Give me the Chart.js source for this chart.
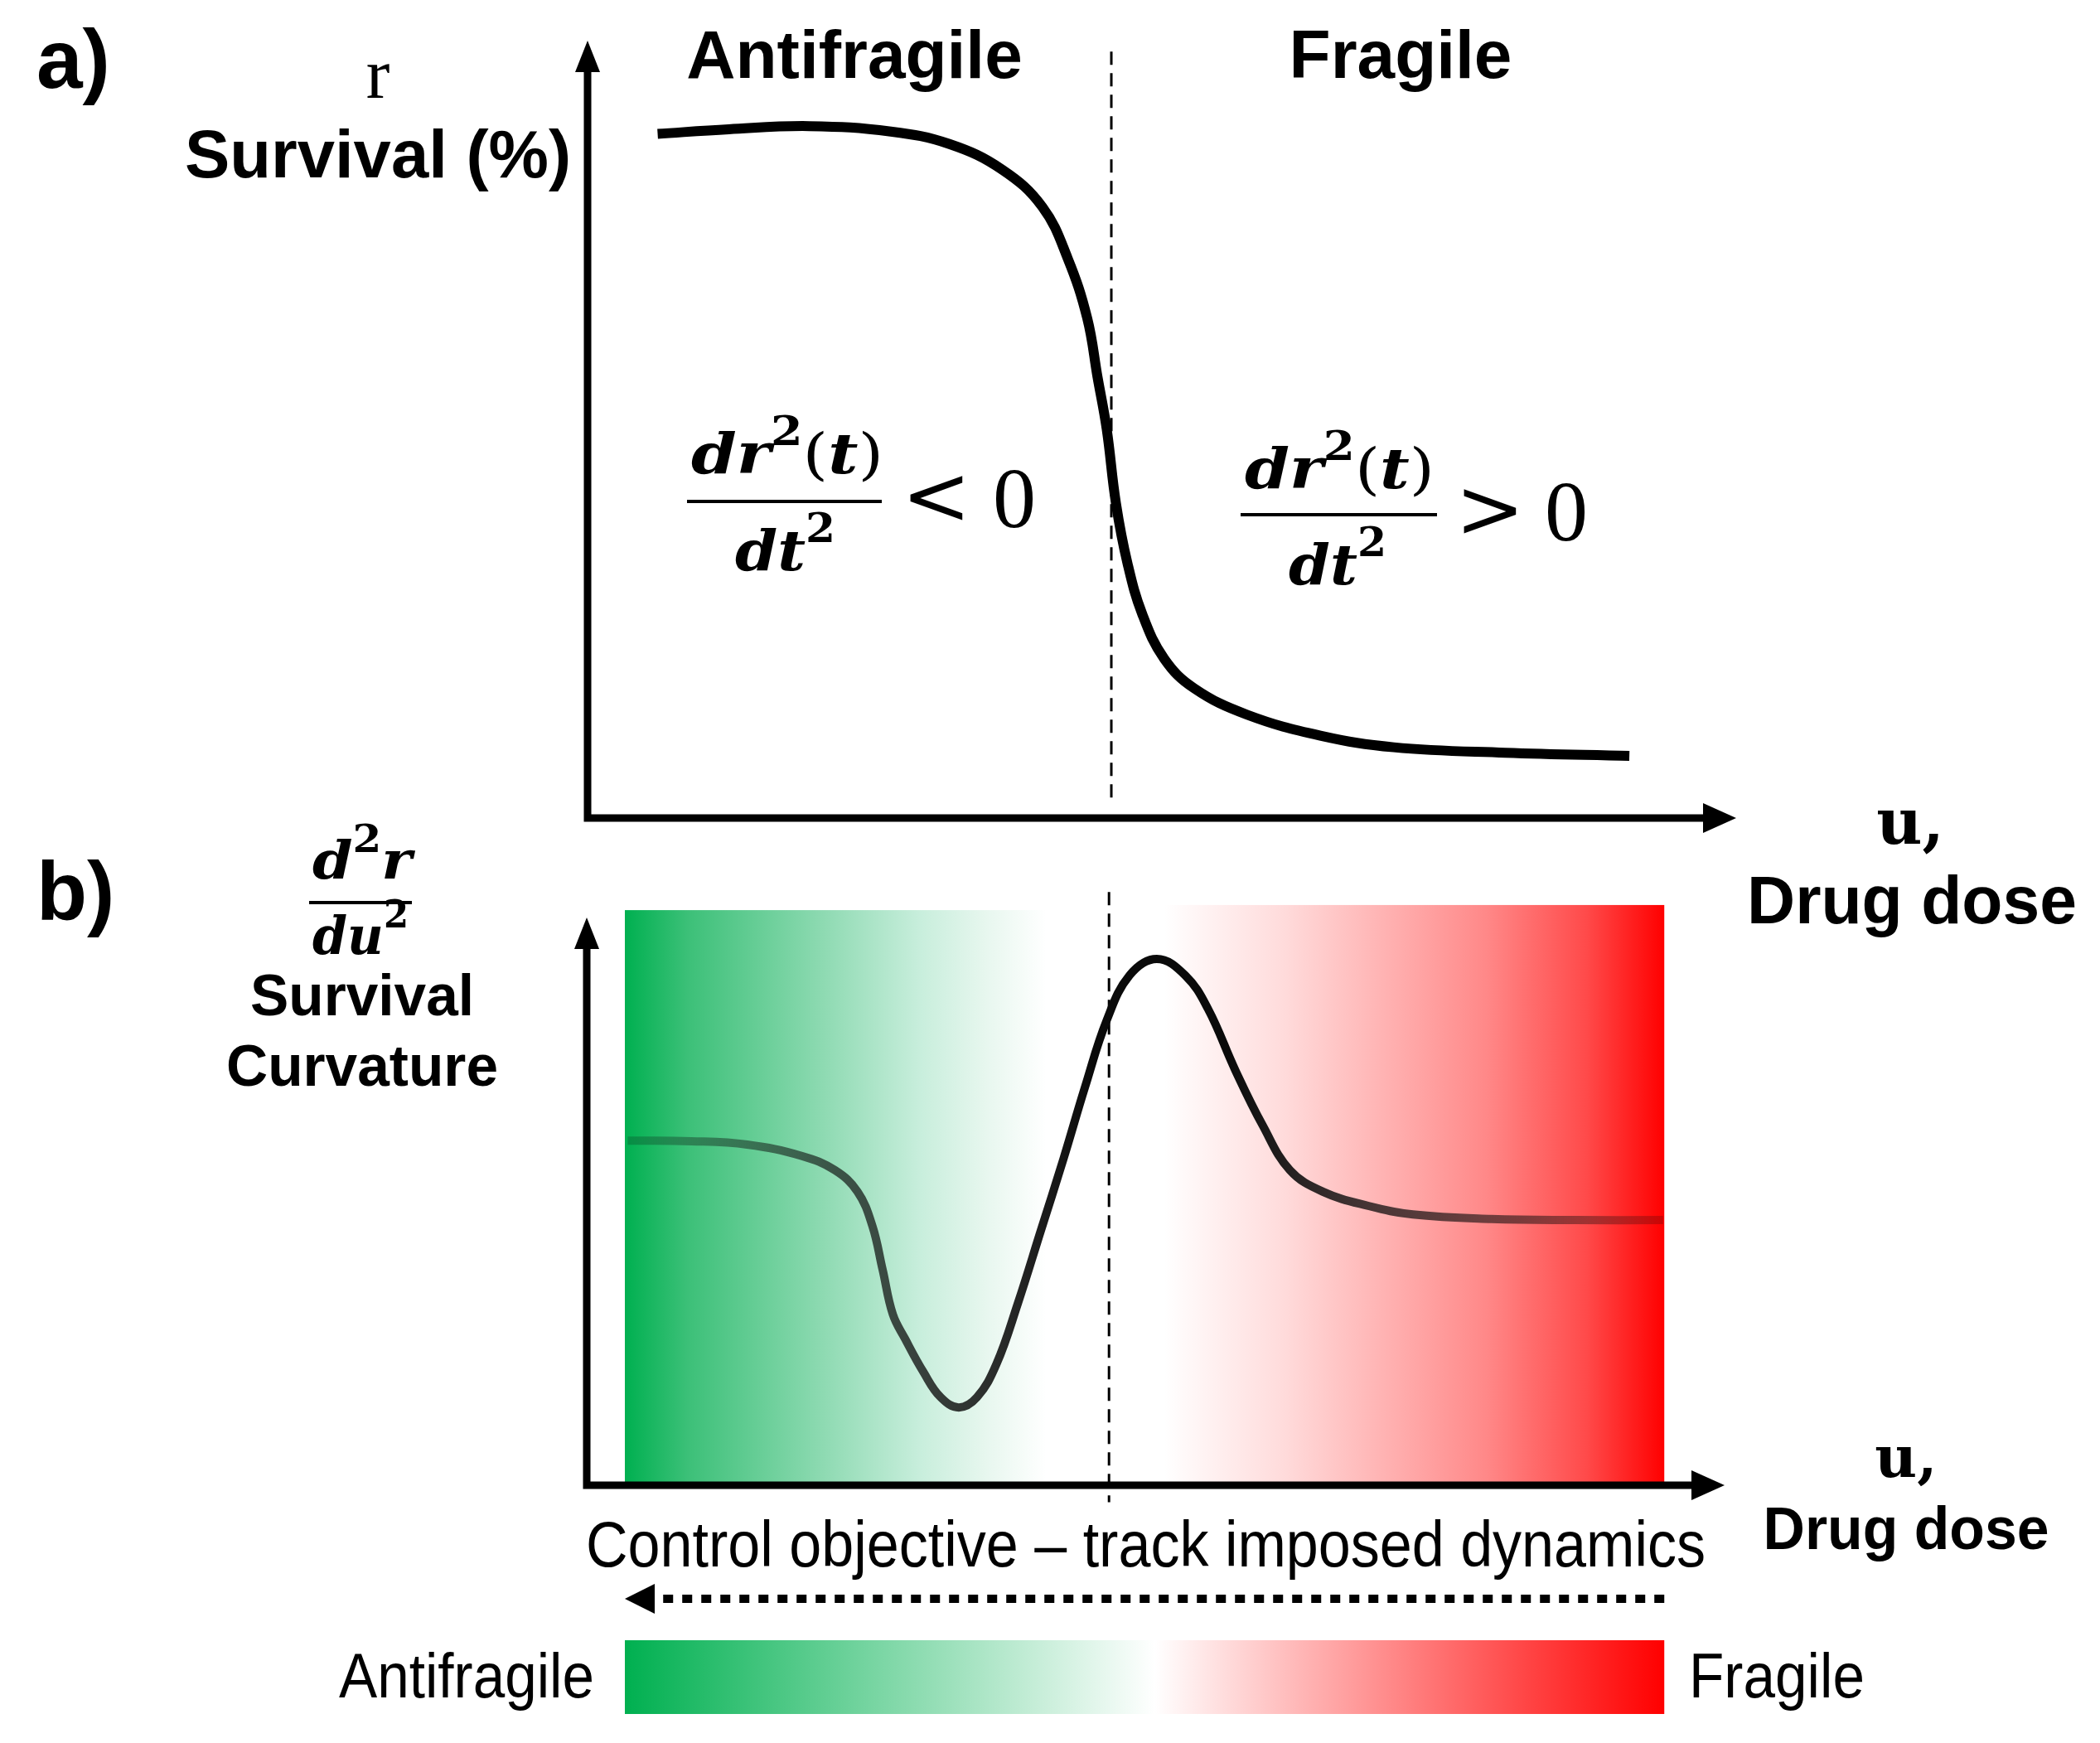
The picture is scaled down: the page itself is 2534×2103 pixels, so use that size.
<!DOCTYPE html>
<html>
<head>
<meta charset="utf-8">
<script src="https://cdn.jsdelivr.net/npm/chart.js@4.4.1/dist/chart.umd.min.js"></script>
<style>
html,body{margin:0;padding:0;background:#fff;}
body{width:2534px;height:2103px;position:relative;overflow:hidden;}
#chartA{position:absolute;left:0;top:0;}
#chartB{position:absolute;left:0;top:990px;}
</style>
</head>
<body>
<canvas id="chartA" width="2534" height="1140"></canvas>
<canvas id="chartB" width="2534" height="1113"></canvas>
<script>
// a) survival vs drug dose (arbitrary units, axes 0-10 / 0-100)
var doseA = [0.61,1.23,1.93,2.64,3.15,3.61,3.96,4.18,4.35,4.44,4.52,4.60,4.70,4.83,5.02,5.28,5.74,6.38,7.02,7.99,9.07];
var survivalA = [88.0,88.6,89.0,88.3,86.7,83.4,78.6,72.0,64.3,56.7,50.0,40.5,32.8,26.2,20.5,16.7,13.3,10.6,9.1,8.4,8.0];
var boundaryA = 4.56;

// b) survival curvature vs drug dose
var doseB = [0.36,0.92,1.41,1.89,2.18,2.38,2.51,2.60,2.69,2.80,2.96,3.11,3.27,3.43,3.60,3.79,3.99,4.19,4.38,4.57,4.77,5.01,5.26,5.46,5.70,5.94,6.18,6.47,6.87,7.26,7.95,8.68,9.46];
var curvatureB = [60.7,60.6,60.0,58.0,55.5,51.7,45.7,38.0,30.1,25.7,19.9,15.5,13.7,15.5,21.3,32.1,44.8,57.5,70.2,81.9,89.8,92.7,89.8,83.9,73.1,63.4,55.5,51.7,49.2,47.7,46.9,46.7,46.7];
var boundaryB = 4.59;
var regionsB = [0.335, 4.59, 9.47]; // antifragile zone | fragile zone

var SANS = "'Liberation Sans', Arial, sans-serif";
var SERIF = "'DejaVu Serif', serif";

function pts(xs, ys) {
  return xs.map(function (x, i) { return {x: x, y: ys[i]}; });
}

function txt(ctx, s, x, y, font, align, maxW) {
  ctx.font = font;
  ctx.textAlign = align || 'center';
  ctx.textBaseline = 'alphabetic';
  ctx.fillStyle = '#000';
  if (maxW) ctx.fillText(s, x, y, maxW); else ctx.fillText(s, x, y);
}

// draw runs of text squeezed/stretched between x0 and x1
function runs(ctx, parts, x0, x1, base) {
  var w = 0;
  parts.forEach(function (p) { ctx.font = p[1]; w += ctx.measureText(p[0]).width; });
  ctx.save();
  ctx.translate(x0, base);
  ctx.scale((x1 - x0) / w, 1);
  ctx.textAlign = 'left';
  ctx.textBaseline = 'alphabetic';
  ctx.fillStyle = '#000';
  var cx = 0;
  parts.forEach(function (p) {
    ctx.font = p[1];
    ctx.fillText(p[0], cx, p[2] || 0);
    cx += ctx.measureText(p[0]).width;
  });
  ctx.restore();
}

function hline(ctx, x0, x1, y, w) {
  ctx.beginPath(); ctx.moveTo(x0, y); ctx.lineTo(x1, y);
  ctx.lineWidth = w; ctx.strokeStyle = '#000'; ctx.stroke();
}

function axes(ctx, a) {
  ctx.save();
  ctx.strokeStyle = '#000'; ctx.fillStyle = '#000'; ctx.lineWidth = 9; ctx.setLineDash([]);
  ctx.beginPath();
  ctx.moveTo(a.left, a.top + 30); ctx.lineTo(a.left, a.bottom); ctx.lineTo(a.right - 34, a.bottom);
  ctx.stroke();
  ctx.beginPath();
  ctx.moveTo(a.left, a.top); ctx.lineTo(a.left - 15, a.top + 38); ctx.lineTo(a.left + 15, a.top + 38); ctx.closePath(); ctx.fill();
  ctx.beginPath();
  ctx.moveTo(a.right, a.bottom); ctx.lineTo(a.right - 40, a.bottom - 18); ctx.lineTo(a.right - 40, a.bottom + 18); ctx.closePath(); ctx.fill();
  ctx.restore();
}

function dashV(ctx, x, y0, y1) {
  ctx.save();
  ctx.beginPath(); ctx.moveTo(x, y0); ctx.lineTo(x, y1);
  ctx.setLineDash([16, 10]); ctx.lineWidth = 3; ctx.strokeStyle = '#000'; ctx.stroke();
  ctx.restore();
}

var plugA = {
  id: 'decorA',
  afterDraw: function (chart) {
    var ctx = chart.ctx, a = chart.chartArea, xs = chart.scales.x, ys = chart.scales.y;
    ctx.save();
    axes(ctx, a);
    dashV(ctx, xs.getPixelForValue(boundaryA), ys.getPixelForValue(98.6), ys.getPixelForValue(2.4));

    var MI = "bold italic 68px " + SERIF, UP = "68px " + SERIF, SUP = "bold 48px " + SERIF;
    var REL = "100px " + SERIF, ZERO = "104px 'Liberation Serif', serif";
    txt(ctx, 'a)', 44, 106, "bold 100px " + SANS, 'left', 93);
    txt(ctx, 'r', 456, 118, "86px 'Liberation Serif', serif");
    txt(ctx, 'Survival (%)', 456, 214, "bold 82px " + SANS, 'center', 466);
    txt(ctx, 'Antifragile', 1031, 94, "bold 82px " + SANS, 'center', 412);
    txt(ctx, 'Fragile', 1690, 94, "bold 82px " + SANS, 'center', 272);
    txt(ctx, 'u,', 2305, 1018, "bold 76px " + SERIF);
    txt(ctx, 'Drug dose', 2307, 1114, "bold 82px " + SANS, 'center', 398);

    // d r^2(t) / dt^2 < 0
    runs(ctx, [['d', MI], ['r', MI], ['2', SUP, -34], ['(', UP], ['t', MI], [')', UP]], 834, 1066, 571);
    hline(ctx, 829, 1064, 605, 4);
    runs(ctx, [['d', MI], ['t', MI], ['2', SUP, -34]], 887, 1008, 688);
    txt(ctx, '<', 1130, 632, REL);
    txt(ctx, '0', 1224, 636, ZERO);
    // d r^2(t) / dt^2 > 0
    runs(ctx, [['d', MI], ['r', MI], ['2', SUP, -34], ['(', UP], ['t', MI], [')', UP]], 1502, 1731, 589);
    hline(ctx, 1497, 1734, 621, 4);
    runs(ctx, [['d', MI], ['t', MI], ['2', SUP, -34]], 1555, 1673, 705);
    txt(ctx, '>', 1798, 648, REL);
    txt(ctx, '0', 1890, 652, ZERO);
    ctx.restore();
  }
};

var OFF = 990; // top of canvas B on the page
var plugB = {
  id: 'decorB',
  beforeDatasetsDraw: function (chart) {
    var ctx = chart.ctx, a = chart.chartArea, xs = chart.scales.x, ys = chart.scales.y;
    var x0 = xs.getPixelForValue(regionsB[0]), x1 = xs.getPixelForValue(regionsB[1]), x2 = xs.getPixelForValue(regionsB[2]);
    var yb = a.bottom;
    ctx.save();
    var g = ctx.createLinearGradient(x0, 0, x1, 0);
    g.addColorStop(0, '#00B050');
    g.addColorStop(0.13, '#3CC078');
    g.addColorStop(0.41, '#8EDAB2');
    g.addColorStop(0.61, '#C8EEDC');
    g.addColorStop(0.75, '#E8F7EF');
    g.addColorStop(0.87, '#FFFFFF');
    g.addColorStop(1, '#FFFFFF');
    ctx.fillStyle = g;
    var yg = ys.getPixelForValue(101.3);
    ctx.fillRect(x0, yg, x1 - x0, yb - yg);
    var r = ctx.createLinearGradient(x1, 0, x2, 0);
    r.addColorStop(0, '#FFFFFF');
    r.addColorStop(0.1, '#FFFFFF');
    r.addColorStop(0.32, '#FFDADA');
    r.addColorStop(0.56, '#FFA4A4');
    r.addColorStop(0.68, '#FF8888');
    r.addColorStop(0.86, '#FF4A4A');
    r.addColorStop(1, '#FF0000');
    ctx.fillStyle = r;
    var yr = ys.getPixelForValue(102.2);
    ctx.fillRect(x1, yr, x2 - x1, yb - yr);
    axes(ctx, a);
    dashV(ctx, xs.getPixelForValue(boundaryB), ys.getPixelForValue(104.5), ys.getPixelForValue(-3));
    ctx.restore();
  },
  afterDraw: function (chart) {
    var ctx = chart.ctx, xs = chart.scales.x;
    var x0 = xs.getPixelForValue(regionsB[0]), x2 = xs.getPixelForValue(regionsB[2]);
    ctx.save();
    ctx.translate(0, -OFF);
    var MI = "bold italic 64px " + SERIF, SUP = "bold 46px " + SERIF;
    txt(ctx, 'b)', 44, 1110, "bold 100px " + SANS, 'left', 96);
    runs(ctx, [['d', MI], ['2', SUP, -32], ['r', MI]], 377, 497, 1060);
    hline(ctx, 373, 497, 1089, 4);
    runs(ctx, [['d', MI], ['u', MI], ['2', SUP, -32]], 377, 493, 1151);
    txt(ctx, 'Survival', 437, 1225, "bold 70px " + SANS, 'center', 270);
    txt(ctx, 'Curvature', 437, 1310, "bold 70px " + SANS, 'center', 328);
    txt(ctx, 'u,', 2300, 1782, "bold 70px " + SERIF);
    txt(ctx, 'Drug dose', 2300, 1869, "bold 72px " + SANS, 'center', 345);
    txt(ctx, 'Control objective \u2013 track imposed dynamics', 707, 1890, "78px " + SANS, 'left', 1351);

    // dotted arrow pointing towards antifragile
    ctx.beginPath(); ctx.moveTo(x2, 1929); ctx.lineTo(x0 + 34, 1929);
    ctx.setLineDash([12, 11]); ctx.lineWidth = 10; ctx.strokeStyle = '#000'; ctx.stroke();
    ctx.setLineDash([]);
    ctx.beginPath(); ctx.moveTo(x0, 1929); ctx.lineTo(x0 + 36, 1911); ctx.lineTo(x0 + 36, 1947); ctx.closePath();
    ctx.fillStyle = '#000'; ctx.fill();

    // colour bar
    var g = ctx.createLinearGradient(x0, 0, x2, 0);
    g.addColorStop(0, '#00B050');
    g.addColorStop(0.51, '#FFFFFF');
    g.addColorStop(1, '#FF0000');
    ctx.fillStyle = g;
    ctx.fillRect(x0, 1979, x2 - x0, 89);
    txt(ctx, 'Antifragile', 717, 2048, "76px " + SANS, 'right', 308);
    txt(ctx, 'Fragile', 2038, 2048, "76px " + SANS, 'left', 212);
    ctx.restore();
  }
};

function baseOpts(pad) {
  return {
    responsive: false,
    animation: false,
    layout: {padding: pad},
    plugins: {legend: {display: false}, tooltip: {enabled: false}},
    scales: {
      x: {type: 'linear', min: 0, max: 10, display: false},
      y: {type: 'linear', min: 0, max: 100, display: false}
    }
  };
}

new Chart("chartA", {
  type: "line",
  data: {
    datasets: [{
      data: pts(doseA, survivalA),
      borderColor: "#000",
      borderWidth: 12,
      pointRadius: 0,
      tension: 0.4,
      borderJoinStyle: 'round',
      clip: false
    }]
  },
  options: baseOpts({left: 709, right: 439, top: 49, bottom: 153}),
  plugins: [plugA]
});

new Chart("chartB", {
  type: "line",
  data: {
    datasets: [{
      data: pts(doseB, curvatureB),
      borderColor: function (c) {
        var ch = c.chart;
        if (!ch.chartArea) return 'rgba(0,0,0,0.8)';
        var xs = ch.scales.x;
        var g = ch.ctx.createLinearGradient(xs.getPixelForValue(doseB[0]), 0, xs.getPixelForValue(doseB[doseB.length - 1]), 0);
        g.addColorStop(0, 'rgba(10,10,10,0.2)');
        g.addColorStop(0.2, 'rgba(10,10,10,0.65)');
        g.addColorStop(0.35, 'rgba(10,10,10,0.85)');
        g.addColorStop(0.45, 'rgba(10,10,10,1)');
        g.addColorStop(0.58, 'rgba(10,10,10,1)');
        g.addColorStop(0.72, 'rgba(10,10,10,0.75)');
        g.addColorStop(0.86, 'rgba(10,10,10,0.55)');
        g.addColorStop(1, 'rgba(10,10,10,0.2)');
        return g;
      },
      borderWidth: 10,
      pointRadius: 0,
      tension: 0.4,
      borderJoinStyle: 'round',
      clip: false
    }]
  },
  options: baseOpts({left: 708, right: 453, top: 117, bottom: 311}),
  plugins: [plugB]
});
</script>
</body>
</html>
